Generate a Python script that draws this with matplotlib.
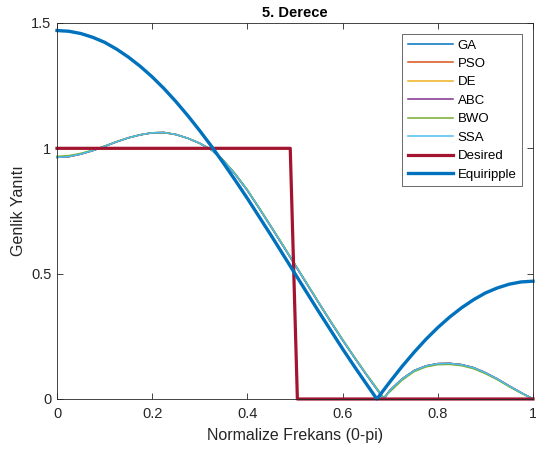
import matplotlib
matplotlib.use('Agg')
import matplotlib.pyplot as plt

plt.rcParams['font.family'] = ['Liberation Sans', 'DejaVu Sans']

# frekans ekseni (normalize, 0-pi)
freq = [0.0, 0.025, 0.05, 0.075, 0.1, 0.125, 0.15, 0.175, 0.2, 0.225,
        0.25, 0.275, 0.3, 0.325, 0.35, 0.375, 0.4, 0.425, 0.45, 0.475,
        0.5, 0.525, 0.55, 0.575, 0.6, 0.625, 0.65, 0.672, 0.675, 0.686,
        0.7, 0.725, 0.75, 0.775, 0.8, 0.825, 0.85, 0.875, 0.9, 0.925,
        0.95, 0.975, 1.0]

# GA, PSO, DE, ABC, SSA -> ayni egri (ust uste)
meta = [0.964, 0.967, 0.977, 0.991, 1.008, 1.026, 1.042, 1.054, 1.062, 1.063,
        1.055, 1.040, 1.020, 0.993, 0.950, 0.895, 0.832, 0.760, 0.686, 0.611,
        0.535, 0.459, 0.383, 0.308, 0.235, 0.165, 0.097, 0.039, 0.031, 0.000,
        0.036, 0.080, 0.113, 0.132, 0.141, 0.142, 0.137, 0.125, 0.105, 0.080,
        0.052, 0.025, 0.000]

bwo = [0.968, 0.971, 0.980, 0.993, 1.009, 1.026, 1.042, 1.054, 1.062, 1.063,
       1.055, 1.040, 1.020, 0.994, 0.952, 0.898, 0.835, 0.763, 0.689, 0.614,
       0.538, 0.462, 0.386, 0.311, 0.238, 0.168, 0.100, 0.043, 0.035, 0.006,
       0.030, 0.075, 0.109, 0.128, 0.137, 0.138, 0.133, 0.121, 0.101, 0.077,
       0.049, 0.023, 0.000]

equiripple = [1.470, 1.467, 1.458, 1.443, 1.423, 1.396, 1.364, 1.327, 1.285, 1.238,
              1.186, 1.130, 1.070, 1.007, 0.940, 0.871, 0.800, 0.726, 0.652, 0.576,
              0.500, 0.424, 0.348, 0.274, 0.200, 0.129, 0.060, 0.000, 0.007, 0.035,
              0.070, 0.130, 0.186, 0.238, 0.285, 0.327, 0.364, 0.396, 0.423, 0.443,
              0.458, 0.467, 0.470]

desired_x = [0.0, 0.49, 0.505, 1.0]
desired_y = [1.0, 1.0, 0.0, 0.0]

fig = plt.figure(figsize=(5.36, 4.55), dpi=100)
ax = fig.add_axes([57 / 536, 56 / 455, 476 / 536, 376 / 455])

ax.plot(freq, meta, color='#0072BD', lw=1.1, label='GA', clip_on=False)
ax.plot(freq, meta, color='#D95319', lw=1.1, label='PSO', clip_on=False)
ax.plot(freq, meta, color='#EDB120', lw=1.1, label='DE', clip_on=False)
ax.plot(freq, meta, color='#7E2F8E', lw=1.1, label='ABC', clip_on=False)
ax.plot(freq, bwo, color='#77AC30', lw=1.1, label='BWO', clip_on=False)
ax.plot(freq, meta, color='#4DBEEE', lw=1.1, label='SSA', clip_on=False)
ax.plot(desired_x, desired_y, color='#A2142F', lw=2.3, label='Desired', clip_on=False)
ax.plot(freq, equiripple, color='#0072BD', lw=2.4, label='Equiripple', clip_on=False)

ax.set_xlim(0, 1)
ax.set_ylim(0, 1.5)
ax.set_xticks([0, 0.2, 0.4, 0.6, 0.8, 1])
ax.set_xticklabels(['0', '0.2', '0.4', '0.6', '0.8', '1'])
ax.set_yticks([0, 0.5, 1, 1.5])
ax.set_yticklabels(['0', '0.5', '1', '1.5'])

grey = '#262626'
for s in ax.spines.values():
    s.set_color(grey)
    s.set_linewidth(0.6)
ax.tick_params(direction='in', length=4, width=0.6, colors=grey, labelsize=10.5,
               top=True, right=True)
ax.tick_params(axis='x', pad=6)
ax.tick_params(axis='y', pad=4)

ax.set_xlabel('Normalize Frekans (0-pi)', fontsize=11.5, color=grey, labelpad=5)
ax.set_ylabel('Genlik Yanıtı', fontsize=11.5, color=grey, labelpad=4)
ax.set_title('5. Derece', fontsize=10.5, fontweight='bold', color='black', pad=4)

leg = ax.legend(loc='upper right', bbox_to_anchor=(465 / 476, 365 / 376),
                borderaxespad=0, fontsize=9.5, frameon=True, fancybox=False,
                edgecolor=grey, handlelength=3.4, handletextpad=0.4,
                labelspacing=0.47, borderpad=0.4)
leg.get_frame().set_linewidth(0.6)

fig.savefig('out.png', dpi=100)
